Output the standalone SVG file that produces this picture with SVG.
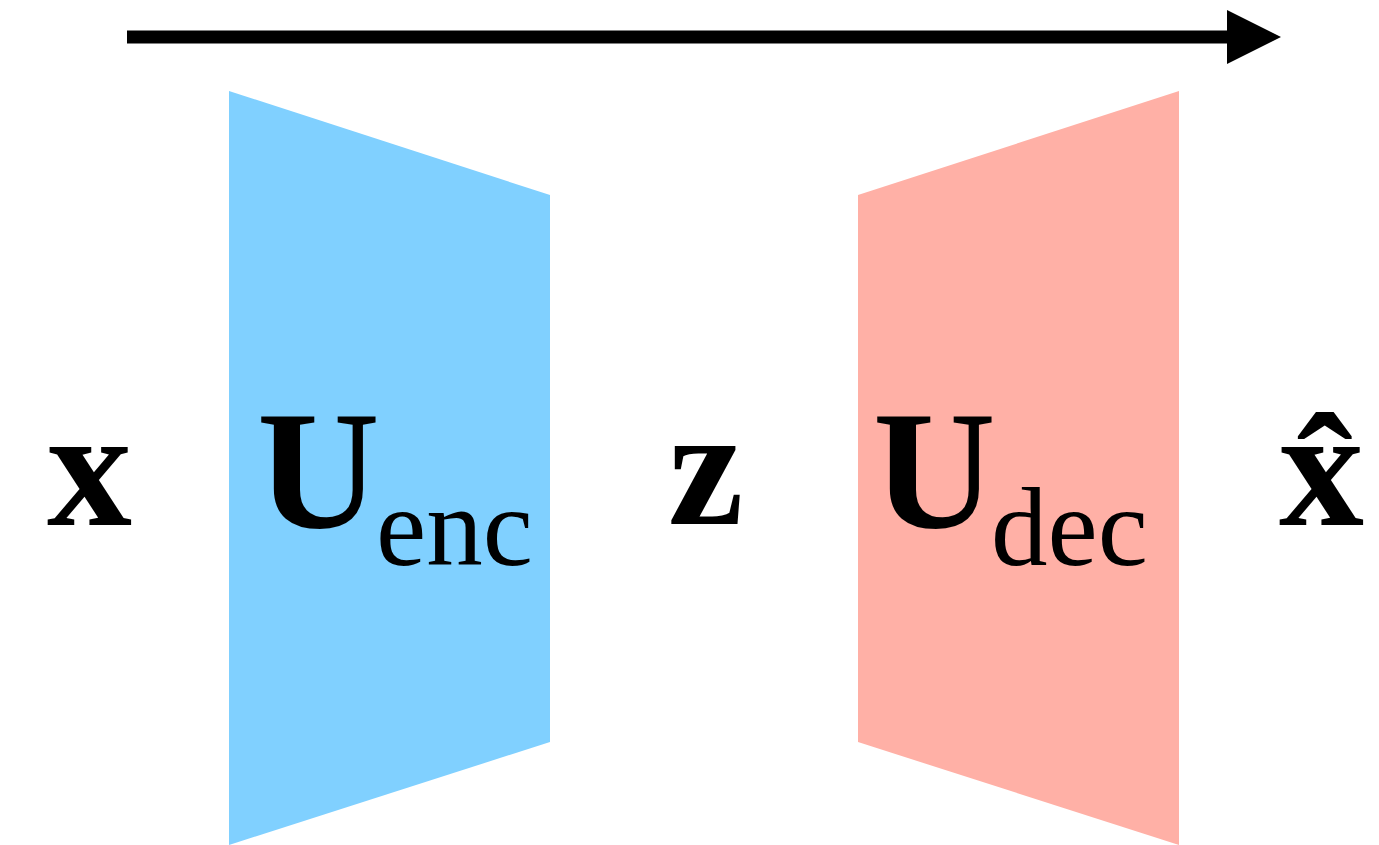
<svg xmlns="http://www.w3.org/2000/svg" width="1379" height="845" viewBox="0 0 1379 845">
<rect width="1379" height="845" fill="#fff"/>
<g id="connectors">
<line x1="127" y1="37" x2="1230" y2="37" stroke="#000" stroke-width="13"/>
<polygon points="1227,10 1281,37 1227,64" fill="#000"/>
</g>
<g id="encoder">
<polygon points="229,91 550,195 550,742 229,845" fill="#80D0FF"/>
<text x="257" y="527" font-family="Liberation Serif" font-size="170" font-weight="900">U</text>
<text x="376" y="565" font-family="Liberation Serif" font-size="113">enc</text>
</g>
<g id="decoder">
<polygon points="858,195 1179,91 1179,845 858,742" fill="#FFB0A6"/>
<text x="873" y="527" font-family="Liberation Serif" font-size="170" font-weight="900">U</text>
<text x="991" y="565" font-family="Liberation Serif" font-size="113">dec</text>
</g>
<g id="input">
<text x="47" y="525" font-family="Liberation Serif" font-size="170" font-weight="900">x</text>
</g>
<g id="latent">
<text x="668" y="524" font-family="Liberation Serif" font-size="170" font-weight="900">z</text>
</g>
<g id="output">
<text x="1279" y="525" font-family="Liberation Serif" font-size="170" font-weight="900">x̂</text>
</g>
</svg>
